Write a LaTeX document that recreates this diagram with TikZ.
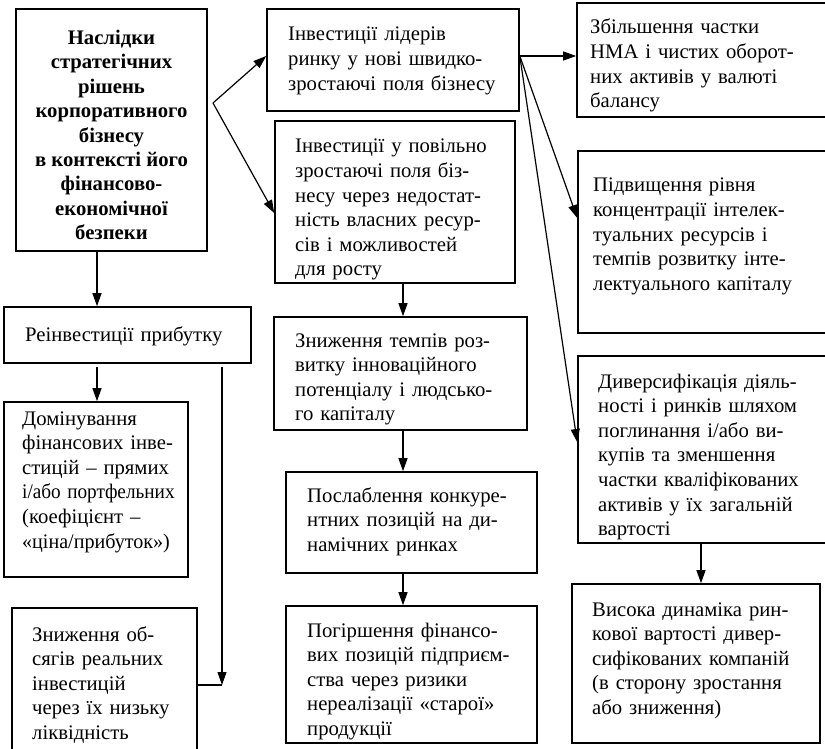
\documentclass[tikz,border=0pt]{standalone}
\usepackage{fontspec}
\setmainfont{Liberation Serif}
\usetikzlibrary{arrows.meta,fit,calc}
\begin{document}
\begin{tikzpicture}[x=1pt,y=-1pt,
  box/.style={draw, line width=1.6pt, inner sep=0pt},
  arr/.style={line width=1.2pt, -{Triangle[length=13pt,width=9pt]}},
  ln/.style={line width=1.2pt},
  txt/.style={anchor=base west, inner sep=0pt, text width=300pt, align=left,
    font=\fontsize{20.7}{24.6}\selectfont}]
\useasboundingbox (0,0) rectangle (825,749);

% boxes
\node[box, fit={(16,9) (207,251)}] (main) {};
\node[box, fit={(267,9) (519,111)}] (b1) {};
\node[box, fit={(275,121) (515,283)}] (b2) {};
\node[box, fit={(577,3) (828,117)}] (c1) {};
\node[box, fit={(578,151) (828,333)}] (c2) {};
\node[box, fit={(578,356) (828,543)}] (c3) {};
\node[box, fit={(572,584) (820,743)}] (c4) {};
\node[box, fit={(4,307) (251,363)}] (re) {};
\node[box, fit={(4,402) (188,577)}] (dom) {};
\node[box, fit={(12,608) (197,753)}] (zn) {};
\node[box, fit={(274,317) (527,430)}] (d1) {};
\node[box, fit={(286,472) (537,573)}] (d2) {};
\node[box, fit={(286,606) (537,743)}] (d3) {};

% texts
\node[inner sep=0pt, align=center, font=\bfseries\fontsize{20.7}{24.4}\selectfont]
  (tmain) at ($(main.center)+(0,5)$)
  {Наслідки\\стратегічних\\рішень\\корпоративного\\бізнесу\\в контексті його\\фінансово-\\економічної\\безпеки};
\node[txt] (tb1) at (288,41) {Інвестиції лідерів\\ринку у нові швидко-\\зростаючі поля бізнесу};
\node[txt] (tb2) at (295,153) {Інвестиції у повільно\\зростаючі поля біз-\\несу через недостат-\\ність власних ресур-\\сів і можливостей\\для росту};
\node[txt] (tc1) at (590,34) {Збільшення частки\\НМА і чистих оборот-\\них активів у валюті\\балансу};
\node[txt] (tc2) at (593,192) {Підвищення рівня\\концентрації інтелек-\\туальних ресурсів і\\темпів розвитку інте-\\лектуального капіталу};
\node[txt] (tc3) at (598,388) {Диверсифікація діяль-\\ності і ринків шляхом\\поглинання і/або ви-\\купів та зменшення\\частки кваліфікованих\\активів у їх загальній\\вартості};
\node[txt] (tc4) at (592,616) {Висока динаміка рин-\\кової вартості дивер-\\сифікованих компаній\\(в сторону зростання\\або зниження)};
\node[txt] (tre) at (25,341) {Реінвестиції прибутку};
\node[txt] (tdom) at (22,425) {Домінування\\фінансових інве-\\стицій – прямих\\\scalebox{0.93}[1]{і/або портфельних}\\(коефіцієнт –\\\scalebox{0.97}[1]{«ціна/прибуток»)}};
\node[txt] (tzn) at (32,641) {Зниження об-\\сягів реальних\\інвестицій\\через їх низьку\\ліквідність};
\node[txt] (td1) at (295,347) {Зниження темпів роз-\\витку інноваційного\\потенціалу і людсько-\\го капіталу};
\node[txt] (td2) at (307,502) {Послаблення конкуре-\\нтних позицій на ди-\\намічних ринках};
\node[txt] (td3) at (307,637) {Погіршення фінансо-\\вих позицій підприєм-\\ства через ризики\\нереалізації «старої»\\продукції};

% helper coordinates
\coordinate (fork) at (213,103);
\coordinate (y56) at (0,56);
\coordinate (y213) at (0,213);
\coordinate (y218) at (0,218);
\coordinate (y442) at (0,442);
\coordinate (xl) at (97,0);
\coordinate (xm) at (403,0);
\coordinate (xr) at (701,0);
\coordinate (rz) at (222,685);
\coordinate (rtop) at (222,367);
\coordinate (dtop) at (97,367);

% connectors
\draw[arr] (fork) -- (b1.west |- y56);
\draw[arr] (fork) -- (b2.west |- y213);
\draw[arr] (b1.east |- y56) -- (c1.west |- y56);
\draw[arr] (b1.east |- y56) -- (c2.west |- y218);
\draw[arr] (b1.east |- y56) -- (c3.west |- y442);
\draw[arr] (main.south -| xl) -- (re.north -| xl);
\draw[arr] (dtop) -- (dom.north -| xl);
\draw[arr] (rtop) -- (rz);
\draw[ln] (rz) -- (zn.east |- rz);
\draw[arr] (b2.south -| xm) -- (d1.north -| xm);
\draw[arr] (d1.south -| xm) -- (d2.north -| xm);
\draw[arr] (d2.south -| xm) -- (d3.north -| xm);
\draw[arr] (c3.south -| xr) -- (c4.north -| xr);
\end{tikzpicture}
\end{document}
